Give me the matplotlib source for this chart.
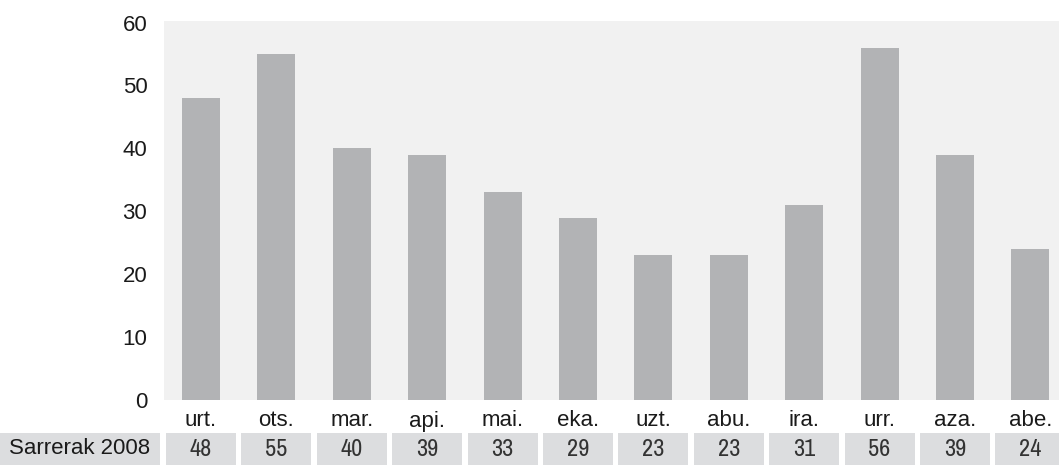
import matplotlib
matplotlib.use("Agg")
import matplotlib.pyplot as plt
from matplotlib.patches import Rectangle

months = ["urt.", "ots.", "mar.", "api.", "mai.", "eka.", "uzt.", "abu.", "ira.", "urr.", "aza.", "abe."]
values = [48, 55, 40, 39, 33, 29, 23, 23, 31, 56, 39, 24]
row_label = "Sarrerak 2008"
yticks = [0, 10, 20, 30, 40, 50, 60]

W, H = 1059, 466
fig = plt.figure(figsize=(W / 100, H / 100), dpi=100)
left, right, top, bottom = 164, 1059, 21, 400
ax = fig.add_axes([left / W, (H - bottom) / H, (right - left) / W, (bottom - top) / H])
ax.set_facecolor("#f1f1f1")

x = list(range(len(months)))
ax.bar(x, values, width=0.505, color="#b2b3b5", zorder=2)
ax.set_ylim(0, 60.25)
ax.set_xlim(-0.49, 11.38)
ax.set_yticks(yticks)
ax.set_yticklabels([str(t) for t in yticks], fontsize=16, family="Liberation Sans", color="#1a1a1a")
ax.tick_params(axis="y", length=0, pad=12)
ax.set_xticks([])
for s in ax.spines.values():
    s.set_visible(False)

axh = bottom - top
tr = ax.get_xaxis_transform()
for i, m in enumerate(months):
    ax.text(i, -21 / axh, m, transform=tr, ha="center", va="center", fontsize=16,
            family="Liberation Sans", color="#1a1a1a", clip_on=False)

cell_top = -(433 - bottom) / axh
cell_bot = -(465 - bottom) / axh
cell_w = 70 / 75.4
cell_color = "#dcdddf"
for i, v in enumerate(values):
    ax.add_patch(Rectangle((i - cell_w / 2, cell_bot), cell_w, cell_top - cell_bot,
                           transform=tr, facecolor=cell_color, edgecolor="none", clip_on=False))
    ax.text(i, (cell_top + cell_bot) / 2, str(v), transform=tr, ha="center", va="center",
            family=["Archivo Narrow", "DejaVu Sans"], fontsize=17.5,
            color="#333333", clip_on=False)

fig.patches.append(Rectangle((0, (H - 465) / H), 160 / W, 32 / H, transform=fig.transFigure,
                             facecolor=cell_color, edgecolor="none"))
fig.text(80 / W, (H - 449) / H, row_label, ha="center", va="center", fontsize=16,
         family="Liberation Sans", color="#1a1a1a")

fig.savefig("out.png", dpi=100)
